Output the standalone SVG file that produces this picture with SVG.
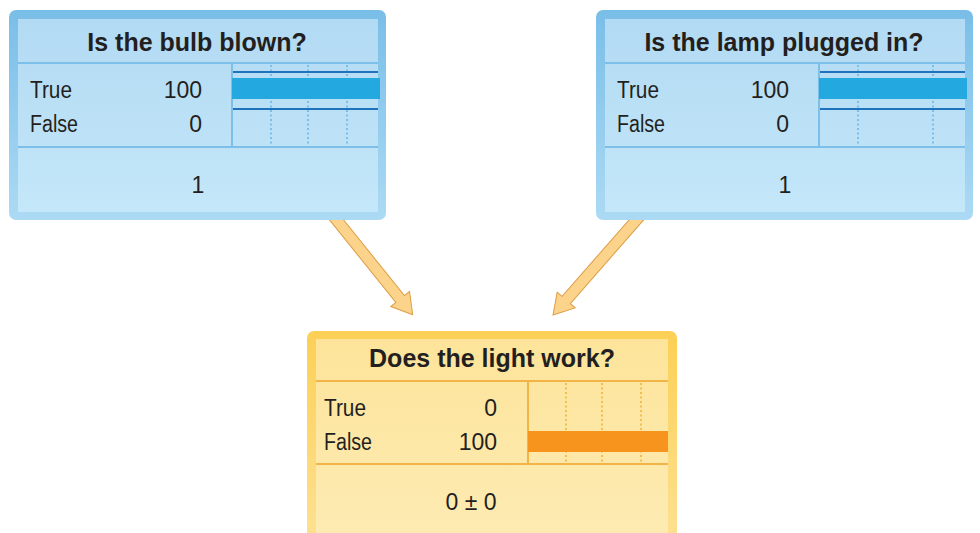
<svg xmlns="http://www.w3.org/2000/svg" width="980" height="533" viewBox="0 0 980 533">
  <defs>
    <linearGradient id="blueFrame" x1="0" y1="0" x2="0" y2="1">
      <stop offset="0" stop-color="#79bee8"/>
      <stop offset="1" stop-color="#acdaf4"/>
    </linearGradient>
    <linearGradient id="bluePanel" x1="0" y1="0" x2="0" y2="1">
      <stop offset="0" stop-color="#b2daf3"/>
      <stop offset="1" stop-color="#c4e7f9"/>
    </linearGradient>
    <linearGradient id="goldFrame" x1="0" y1="0" x2="0" y2="1">
      <stop offset="0" stop-color="#fcd055"/>
      <stop offset="1" stop-color="#fde194"/>
    </linearGradient>
    <linearGradient id="goldPanel" x1="0" y1="0" x2="0" y2="1">
      <stop offset="0" stop-color="#fde49a"/>
      <stop offset="1" stop-color="#fdebb3"/>
    </linearGradient>
    <!-- block arrows pointing along +x, tip at the far end -->
    <path id="blockArrow" d="M -10 -5.5 L 104 -5.5 L 104 -12 L 124 0 L 104 12 L 104 5.5 L -10 5.5 Z"/>
    <path id="blockArrowLong" d="M -10 -5.5 L 109 -5.5 L 109 -12 L 129 0 L 109 12 L 109 5.5 L -10 5.5 Z"/>
  </defs>
  <style>
    .title { font-family: "Liberation Sans", Arial, sans-serif; font-weight: bold; font-size: 25px; fill: #231f20; text-anchor: middle; }
    .lbl { font-family: "Liberation Sans", Arial, sans-serif; font-size: 23px; fill: #231f20; }
    .num { font-family: "Liberation Sans", Arial, sans-serif; font-size: 23px; fill: #231f20; text-anchor: end; }
    .mid { font-family: "Liberation Sans", Arial, sans-serif; font-size: 23px; fill: #231f20; text-anchor: middle; }
    .bsep { stroke: #7cbfe9; stroke-width: 2; fill: none; }
    .bdot { stroke: #6fb6e6; stroke-width: 1.6; stroke-dasharray: 2 2.5; fill: none; }
    .bline { stroke: #1f73bd; stroke-width: 1.8; fill: none; }
    .bbar { fill: #24a8e0; }
    .gsep { stroke: #f2b446; stroke-width: 2; fill: none; }
    .gdot { stroke: #f2b23c; stroke-width: 1.6; stroke-dasharray: 2 2.5; fill: none; }
    .gbar { fill: #f7941d; }
    .arrow { fill: #fbd38a; stroke: #dd9d45; stroke-width: 1; }
  </style>

  <rect width="980" height="533" fill="#ffffff"/>

  <!-- connectors -->
  <g id="connectors">
    <use href="#blockArrow" class="arrow" transform="translate(335 218) rotate(51.2)"/>
    <use href="#blockArrowLong" class="arrow" transform="translate(638 218) rotate(131.2)"/>
  </g>

  <!-- node: Is the bulb blown? -->
  <g id="node-bulb">
    <rect x="9" y="10" width="377" height="210" rx="7" fill="url(#blueFrame)"/>
    <rect x="18" y="19" width="360" height="193" fill="url(#bluePanel)"/>
    <line class="bsep" x1="18" y1="63" x2="378" y2="63"/>
    <line class="bsep" x1="232" y1="63" x2="232" y2="147"/>
    <line class="bsep" x1="18" y1="147" x2="378" y2="147"/>
    <line class="bdot" x1="271" y1="65" x2="271" y2="146"/>
    <line class="bdot" x1="308" y1="65" x2="308" y2="146"/>
    <line class="bdot" x1="347" y1="65" x2="347" y2="146"/>
    <line class="bline" x1="233" y1="72" x2="378" y2="72"/>
    <line class="bline" x1="233" y1="109" x2="378" y2="109"/>
    <rect class="bbar" x="232" y="78" width="148" height="21"/>
    <text class="title" x="197" y="51">Is the bulb blown?</text>
    <text class="lbl" x="30" y="98" textLength="42" lengthAdjust="spacingAndGlyphs">True</text>
    <text class="num" x="202" y="98">100</text>
    <text class="lbl" x="30" y="132" textLength="48" lengthAdjust="spacingAndGlyphs">False</text>
    <text class="num" x="202" y="132">0</text>
    <text class="mid" x="198" y="193">1</text>
  </g>

  <!-- node: Is the lamp plugged in? -->
  <g id="node-lamp">
    <rect x="596" y="10" width="377" height="210" rx="7" fill="url(#blueFrame)"/>
    <rect x="605" y="19" width="360" height="193" fill="url(#bluePanel)"/>
    <line class="bsep" x1="605" y1="63" x2="965" y2="63"/>
    <line class="bsep" x1="819" y1="63" x2="819" y2="147"/>
    <line class="bsep" x1="605" y1="147" x2="965" y2="147"/>
    <line class="bdot" x1="858" y1="65" x2="858" y2="146"/>
    <line class="bdot" x1="933" y1="65" x2="933" y2="146"/>
    <line class="bline" x1="820" y1="72" x2="965" y2="72"/>
    <line class="bline" x1="820" y1="109" x2="965" y2="109"/>
    <rect class="bbar" x="819" y="78" width="148" height="21"/>
    <text class="title" x="784" y="51">Is the lamp plugged in?</text>
    <text class="lbl" x="617" y="98" textLength="42" lengthAdjust="spacingAndGlyphs">True</text>
    <text class="num" x="789" y="98">100</text>
    <text class="lbl" x="617" y="132" textLength="48" lengthAdjust="spacingAndGlyphs">False</text>
    <text class="num" x="789" y="132">0</text>
    <text class="mid" x="785" y="193">1</text>
  </g>

  <!-- node: Does the light work? -->
  <g id="node-light">
    <rect x="307" y="331" width="370" height="220" rx="7" fill="url(#goldFrame)"/>
    <rect x="316" y="339" width="352" height="200" fill="url(#goldPanel)"/>
    <line class="gsep" x1="316" y1="381" x2="668" y2="381"/>
    <line class="gsep" x1="528" y1="381" x2="528" y2="464"/>
    <line class="gsep" x1="316" y1="464" x2="668" y2="464"/>
    <line class="gdot" x1="566" y1="383" x2="566" y2="463"/>
    <line class="gdot" x1="602" y1="383" x2="602" y2="463"/>
    <line class="gdot" x1="641" y1="383" x2="641" y2="463"/>
    <rect class="gbar" x="528" y="431" width="140" height="21"/>
    <text class="title" x="492" y="367">Does the light work?</text>
    <text class="lbl" x="324" y="416" textLength="42" lengthAdjust="spacingAndGlyphs">True</text>
    <text class="num" x="497" y="416">0</text>
    <text class="lbl" x="324" y="450" textLength="48" lengthAdjust="spacingAndGlyphs">False</text>
    <text class="num" x="497" y="450">100</text>
    <text class="mid" x="471" y="510">0 ± 0</text>
  </g>
</svg>
